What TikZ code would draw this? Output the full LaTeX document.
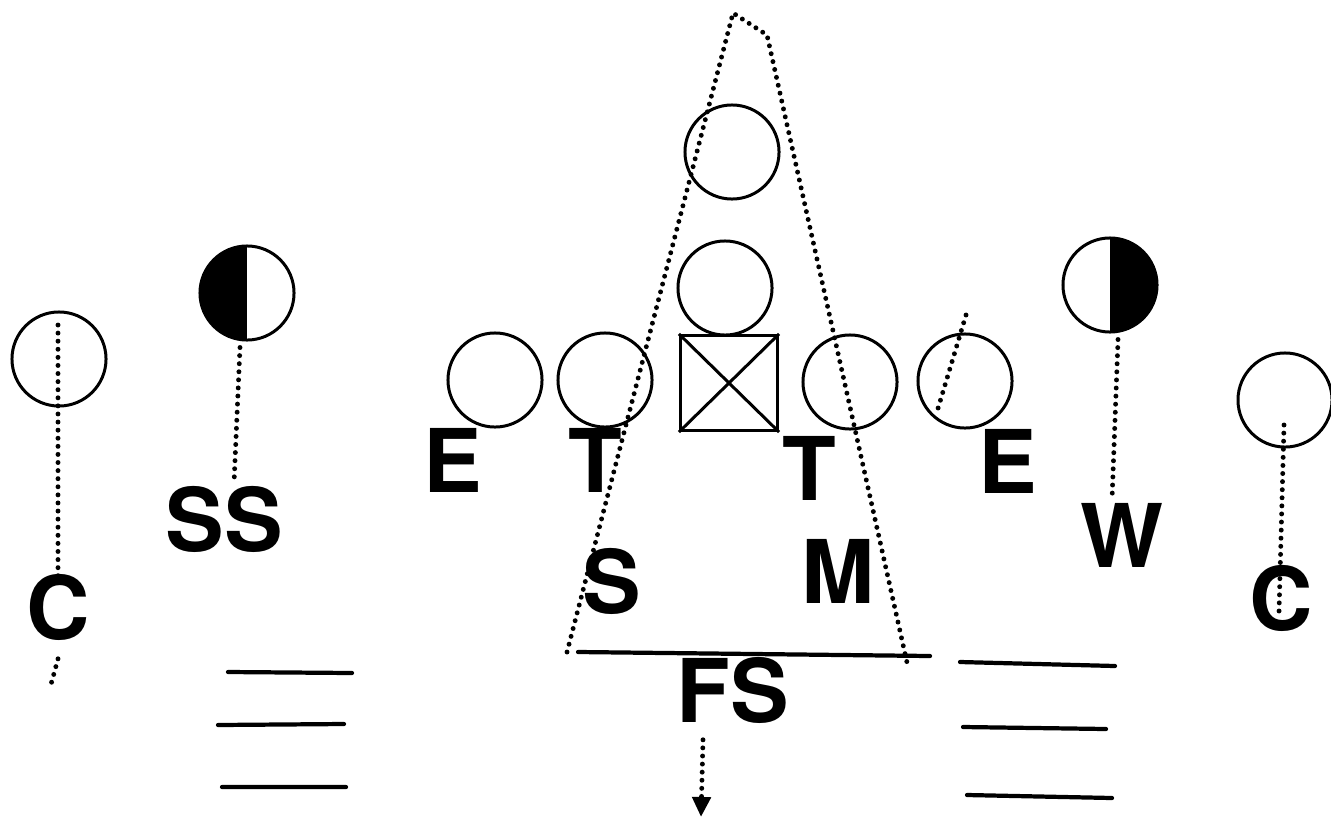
\documentclass[tikz,border=0pt]{standalone}
\usepackage{fontspec}
\setmainfont{TeX Gyre Heros}
\usetikzlibrary{arrows.meta}
\tikzset{
  spieler/.style={circle,draw,line width=0.85pt,minimum size=0.94cm,inner sep=0pt},
  halbL/.style={spieler,path picture={\fill (path picture bounding box.south west) rectangle (path picture bounding box.north);}},
  halbR/.style={spieler,path picture={\fill (path picture bounding box.north) rectangle (path picture bounding box.south east);}},
  buchst/.style={inner sep=0pt,font=\fontsize{25}{25}\selectfont\bfseries},
  punkt/.style={line width=1.4pt,line cap=round,dash pattern=on 0pt off 2.3pt},
  linie/.style={line width=1.2pt,line cap=round},
}
\begin{document}
\begin{tikzpicture}[x=0.01cm,y=-0.01cm]
  \useasboundingbox (0,0) rectangle (1331,818);
  % Angriff
  \node[spieler] (qb1) at (732,152) {};
  \node[spieler] (qb2) at (725,288) {};
  \node[draw,line width=0.85pt,minimum width=0.97cm,minimum height=0.95cm,inner sep=0pt] (ball) at (729,383) {};
  \draw[line width=0.85pt] (ball.north west) -- (ball.south east) (ball.north east) -- (ball.south west);
  \node[spieler] (el) at (495,380) {};
  \node[spieler] (tl) at (605,380) {};
  \node[spieler] (tr) at (850,382) {};
  \node[spieler] (er) at (965,381) {};
  \node[spieler] (cl) at (59,359) {};
  \node[spieler] (cr) at (1285,400) {};
  \node[halbL] (ss) at (247,293) {};
  \node[halbR] (w) at (1110,285) {};
  % Verteidigung
  \node[buchst] (lcl) at (58,607) {C};
  \node[buchst] (lss) at (224,519) {SS};
  \node[buchst] (lel) at (453,460) {E};
  \node[buchst] (ltl) at (595,460) {T};
  \node[buchst] (ls) at (612,581) {S};
  \node[buchst] (ltr) at (809,468) {T};
  \node[buchst] (lm) at (838,571) {M};
  \node[buchst] (ler) at (1008,461) {E};
  \node[buchst] (lw) at (1122,535) {W};
  \node[buchst] (lcr) at (1281,598) {C};
  \node[buchst] (lfs) at (733,690) {FS};
  % Wege
  \coordinate (clo) at (58,325);
  \coordinate (clu) at (50,688);
  \coordinate (cro) at (1284,425);
  \coordinate (cru) at (1279,612);
  \coordinate (ero) at (966,315);
  \coordinate (eru) at (936,415);
  \draw[punkt] (clo) -- ([yshift=-0.05cm]lcl.north);
  \draw[punkt] ([yshift=-0.18cm]lcl.south) -- (clu);
  \draw[punkt] ([xshift=-0.07cm,yshift=-0.06cm]ss.south) -- ([xshift=0.1cm,yshift=0.02cm]lss.north);
  \draw[punkt] ([xshift=0.08cm,yshift=-0.06cm]w.south) -- ([xshift=-0.1cm,yshift=0.02cm]lw.north);
  \draw[punkt] (cro) -- (cru);
  \draw[punkt] (ero) -- (eru);
  % Keil
  \coordinate (k1) at (567,652);
  \coordinate (k2) at (733,13);
  \coordinate (k3) at (767,35);
  \coordinate (k4) at (908,667);
  \draw[punkt] (k1) -- (k2) -- (k3) -- (k4);
  \draw[linie] (578,652) -- (930,656);
  \coordinate (fsz) at (701,817);
  \draw[punkt,-{Triangle[length=0.2cm,width=0.18cm]}] ([yshift=-0.16cm]lfs.south -| 703,0) -- (fsz);
  % Yardlinien
  \draw[linie] (228,672) -- (352,673) (218,725) -- (344,724) (222,787) -- (346,787);
  \draw[linie] (960,662) -- (1115,666) (963,727) -- (1106,729) (967,795) -- (1112,798);
\end{tikzpicture}
\end{document}
